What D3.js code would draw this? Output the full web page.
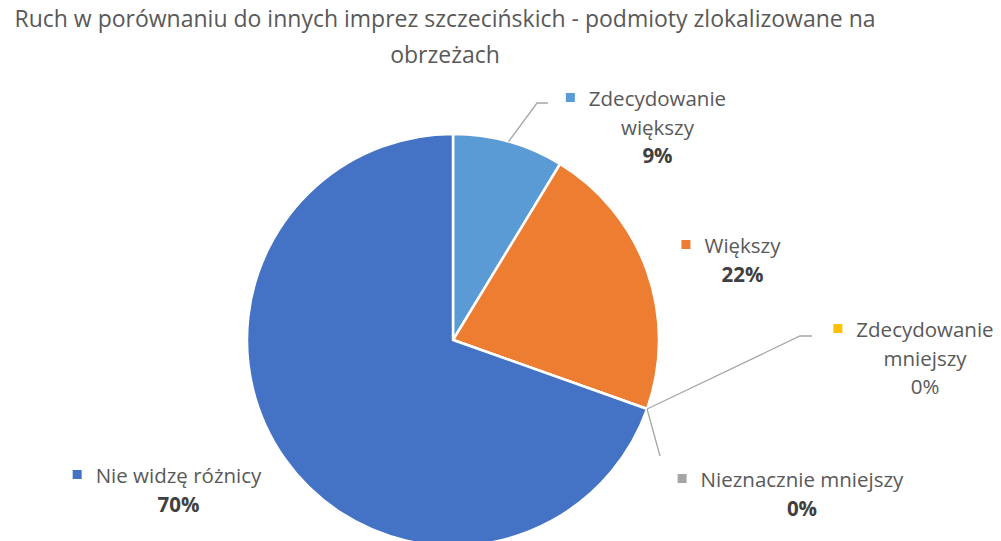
<!DOCTYPE html>
<html>
<head>
<meta charset="utf-8">
<script src="https://cdn.jsdelivr.net/npm/d3@7"></script>
<style>
  html, body { margin: 0; padding: 0; background: #fff; }
  svg { display: block; }
</style>
</head>
<body>
<svg id="chart" width="1001" height="541"></svg>
<script>
// Survey answers (response counts) and their labels
const categories = ["Zdecydowanie większy", "Większy", "Zdecydowanie mniejszy", "Nieznacznie mniejszy", "Nie widzę różnicy"];
const labelLines = [["Zdecydowanie", "większy"], ["Większy"], ["Zdecydowanie", "mniejszy"], ["Nieznacznie mniejszy"], ["Nie widzę różnicy"]];
const counts = [2, 5, 0, 0, 16];
const colors = ["#5B9BD5", "#ED7D31", "#FFC000", "#A5A5A5", "#4472C4"];
const boldValue = [true, true, false, true, true];
const titleLines = ["Ruch w porównaniu do innych imprez szczecińskich - podmioty zlokalizowane na", "obrzeżach"];

// Label layout: text centre x, first line baseline y, and leader-line path end points
const labelLayout = [
  { x: 657.5, y: 106, leader: [[537, 103], [548, 103]] },
  { x: 742.5, y: 253, leader: null },
  { x: 925, y: 337, leader: [[800, 336], [812, 336]] },
  { x: 802, y: 487, leader: [[660, 456]] },
  { x: 178.5, y: 483, leader: null }
];

const svg = d3.select("#chart");
const cx = 453, cy = 340, R = 206;
const font = "'Open Sans', sans-serif";
const lineGap = 28.5;

// Title
svg.append("g").selectAll("text").data(titleLines).join("text")
  .attr("x", 445).attr("y", (d, i) => 27 + i * 36)
  .attr("text-anchor", "middle")
  .attr("font-family", font).attr("font-size", 23)
  .attr("fill", "#595959")
  .text(d => d);

const total = d3.sum(counts);
const pie = d3.pie().sort(null).value(d => d)(counts);
const arc = d3.arc().innerRadius(0).outerRadius(R);

const g = svg.append("g").attr("transform", `translate(${cx},${cy})`);
g.selectAll("path").data(pie).join("path")
  .attr("d", arc)
  .attr("fill", (d, i) => colors[i])
  .attr("stroke", "#fff").attr("stroke-width", 2.5).attr("stroke-linejoin", "round");

// Leader lines from the slice edge to the label
pie.forEach((d, i) => {
  const L = labelLayout[i];
  if (!L.leader) return;
  const a = (d.startAngle + d.endAngle) / 2;
  const start = [cx + R * Math.sin(a), cy - R * Math.cos(a)];
  svg.append("path")
    .attr("d", d3.line()([start, ...L.leader]))
    .attr("fill", "none").attr("stroke", "#A6A6A6").attr("stroke-width", 1.3);
});

// Data labels: legend key + category name + percentage
const fmt = v => Math.round(v / total * 100) + "%";
labelLayout.forEach((L, i) => {
  const grp = svg.append("g");
  const lines = labelLines[i];
  const t = grp.append("text")
    .attr("font-family", font).attr("font-size", 20.5)
    .attr("fill", "#595959").attr("text-anchor", "middle");
  lines.forEach((ln, j) => {
    t.append("tspan").attr("x", L.x).attr("y", L.y + j * lineGap).text(ln);
  });
  grp.append("text")
    .attr("x", L.x).attr("y", L.y + lines.length * lineGap)
    .attr("text-anchor", "middle")
    .attr("font-family", font).attr("font-size", 20.5)
    .attr("font-weight", boldValue[i] ? "bold" : "normal")
    .attr("fill", boldValue[i] ? "#404040" : "#595959")
    .text(fmt(counts[i]));
  // key square to the left of the first line
  const w = t.select("tspan").node().getComputedTextLength();
  grp.append("rect")
    .attr("x", L.x - w / 2 - 23).attr("y", L.y - 13)
    .attr("width", 9).attr("height", 9)
    .attr("fill", colors[i]);
});
</script>
</body>
</html>
